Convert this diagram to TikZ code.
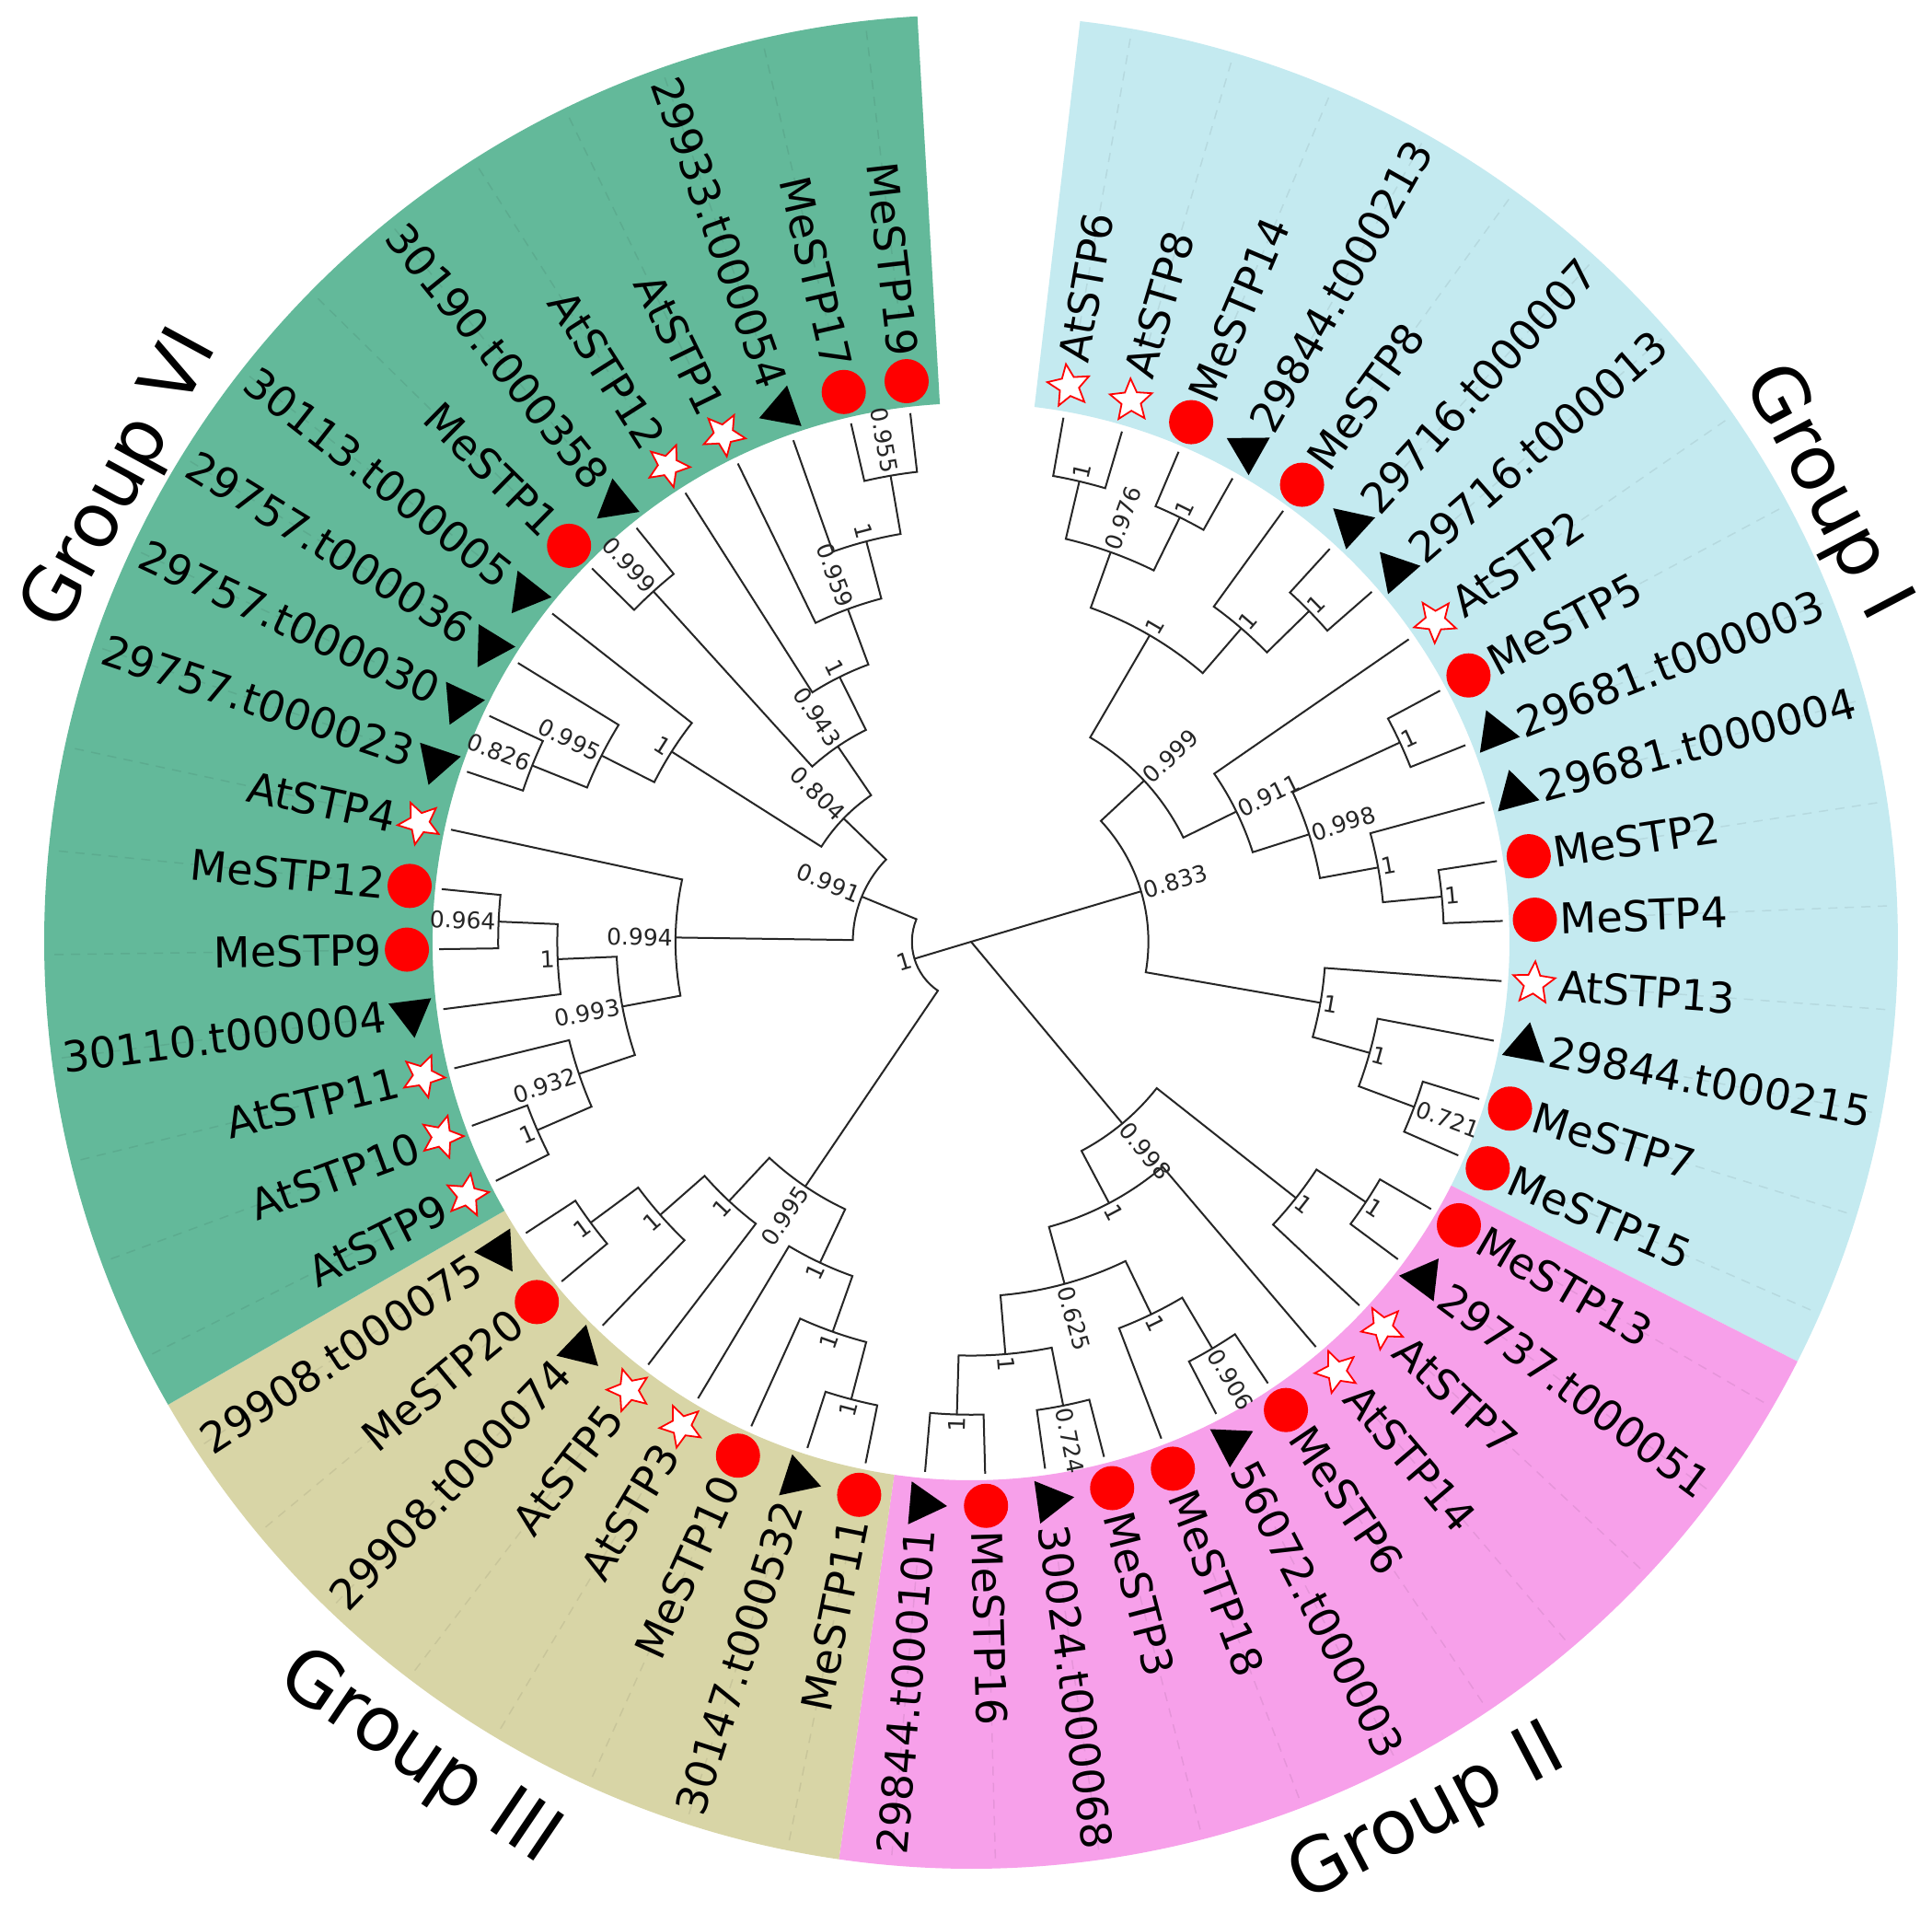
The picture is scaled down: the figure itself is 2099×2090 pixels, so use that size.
\documentclass[tikz,border=0pt]{standalone}
\usepackage{fontspec}
\setmainfont{DejaVu Sans}
\usetikzlibrary{calc}
\definecolor{gI}{RGB}{196,234,240}
\definecolor{gII}{RGB}{247,160,234}
\definecolor{gIII}{RGB}{216,213,166}
\definecolor{gVI}{RGB}{99,185,154}
\definecolor{mkred}{RGB}{255,0,0}
\newlength\labw
% clade: #1 index, #2 depth, #3/#4 child1 index/depth, #5/#6 child2 index/depth, #7 support, #8 name
\newcommand\cladeN[8]{%
  \pgfmathsetmacro\qa{80-6.48*(#3)}%
  \pgfmathsetmacro\qb{80-6.48*(#5)}%
  \pgfmathsetmacro\qn{80-6.48*(#1)}%
  \pgfmathsetmacro\qrn{578-64.2222*(#2)}%
  \pgfmathsetmacro\qra{578-64.2222*(#4)}%
  \pgfmathsetmacro\qrb{578-64.2222*(#6)}%
  \coordinate (#8) at (\qn:\qrn);
  \draw[brl] (\qa:\qra) -- (\qa:\qrn) arc[start angle=\qa, end angle=\qb, radius=\qrn] -- (\qb:\qrb);
  \pgfmathtruncatemacro\qrs{cos(\qn)>0}%
  \ifnum\qrs=1
    \node[suplab, rotate=\qn, anchor=west] (#8-lab) at (#8) {#7};
  \else
    \node[suplab, rotate=\qn+180, anchor=east] (#8-lab) at (#8) {#7};
  \fi
}
\newcommand\bandsec[3]{%
  \pgfmathsetmacro\bsa{80-6.48*(#1)}%
  \pgfmathsetmacro\bsb{80-6.48*(#2)}%
  \fill[#3] (\bsa:585) arc[start angle=\bsa, end angle=\bsb, radius=585] -- (\bsb:1007) arc[start angle=\bsb, end angle=\bsa, radius=1007] -- cycle;
}
\begin{document}
\begin{tikzpicture}[x=1pt,y=1pt,
  brl/.style={line width=2pt, draw=black!85},
  suplab/.style={font=\fontsize{25}{27}\selectfont, inner sep=3pt, text=black!85},
  leaflab/.style={font=\fontsize{46}{50}\selectfont, inner sep=0pt},
  grplab/.style={font=\fontsize{82}{90}\selectfont, inner sep=0pt},
  dashl/.style={line width=1.5pt, draw=black, opacity=0.07, dash pattern=on 10pt off 8pt}]
\useasboundingbox (-1055,-1067) rectangle (1044,1023);
\fill[white] (-1055,-1067) rectangle (1044,1023);
% coloured group sectors
\bandsec{-0.5}{16.5}{gI}
\bandsec{16.5}{27.5}{gII}
\bandsec{27.5}{35.5}{gIII}
\bandsec{35.5}{53.5}{gVI}
% leaves: markers, labels, dashed guides
\foreach \i/\mk/\lab in {0/s/AtSTP6,1/s/AtSTP8,2/c/MeSTP14,3/t/29844.t000213,4/c/MeSTP8,5/t/29716.t000007,6/t/29716.t000013,7/s/AtSTP2,8/c/MeSTP5,9/t/29681.t000003,10/t/29681.t000004,11/c/MeSTP2,12/c/MeSTP4,13/s/AtSTP13,14/t/29844.t000215,15/c/MeSTP7,16/c/MeSTP15,17/c/MeSTP13,18/t/29737.t000051,19/s/AtSTP7,20/s/AtSTP14,21/c/MeSTP6,22/t/56072.t000003,23/c/MeSTP18,24/c/MeSTP3,25/t/30024.t000068,26/c/MeSTP16,27/t/29844.t000101,28/c/MeSTP11,29/t/30147.t000532,30/c/MeSTP10,31/s/AtSTP3,32/s/AtSTP5,33/t/29908.t000074,34/c/MeSTP20,35/t/29908.t000075,36/s/AtSTP9,37/s/AtSTP10,38/s/AtSTP11,39/t/30110.t000004,40/c/MeSTP9,41/c/MeSTP12,42/s/AtSTP4,43/t/29757.t000023,44/t/29757.t000030,45/t/29757.t000036,46/t/30113.t000005,47/c/MeSTP1,48/t/30190.t000358,49/s/AtSTP12,50/s/AtSTP1,51/t/29933.t000054,52/c/MeSTP17,53/c/MeSTP19}{
  \pgfmathsetmacro\lth{80-6.48*\i}
  \coordinate (leaf\i) at (\lth:613);
  \if\mk c \fill[mkred] (leaf\i) circle[radius=24];\fi
  \if\mk t \fill[black, shift={(leaf\i)}, rotate=\lth] (90:27) -- (210:27) -- (330:27) -- cycle;\fi
  \if\mk s \filldraw[fill=white, draw=mkred, line width=1.8pt, line join=miter, shift={(leaf\i)}, rotate=\lth] (90:24) -- (126:11) -- (162:24) -- (198:11) -- (234:24) -- (270:11) -- (306:24) -- (342:11) -- (18:24) -- (54:11) -- cycle;\fi
  \pgfmathtruncatemacro\lrs{cos(\lth)>0}
  \ifnum\lrs=1
    \node[leaflab, rotate=\lth, anchor=west] (lab\i) at (\lth:640) {\lab};
  \else
    \node[leaflab, rotate=\lth+180, anchor=east] (lab\i) at (\lth:640) {\lab};
  \fi
  \settowidth{\labw}{\fontsize{46}{50}\selectfont\lab}
  \pgfmathsetmacro\lre{640+\labw+40}
  \pgfmathtruncatemacro\lok{\lre<985}
  \ifnum\lok=1 \draw[dashl] (\lth:\lre) -- (\lth:1004);\fi
}
% Group I
\cladeN{0.5}{1}{0}{0}{1}{0}{1}{nA}
\cladeN{2.5}{1}{2}{0}{3}{0}{1}{nB}
\cladeN{1.5}{2}{0.5}{1}{2.5}{1}{0.976}{nC}
\cladeN{5.5}{1}{5}{0}{6}{0}{1}{nF}
\cladeN{4.75}{2}{4}{0}{5.5}{1}{1}{nE}
\cladeN{3.125}{3}{1.5}{2}{4.75}{2}{1}{nD}
\cladeN{8.5}{1}{8}{0}{9}{0}{1}{nJ}
\cladeN{11.5}{1}{11}{0}{12}{0}{1}{nL}
\cladeN{10.75}{2}{10}{0}{11.5}{1}{1}{nK}
\cladeN{9.625}{3}{8.5}{1}{10.75}{2}{0.998}{nI}
\cladeN{8.3125}{4}{7}{0}{9.625}{3}{0.911}{nH}
\cladeN{5.71875}{5}{3.125}{3}{8.3125}{4}{0.999}{nG}
\cladeN{15.5}{1}{15}{0}{16}{0}{0.721}{nP}
\cladeN{14.75}{2}{14}{0}{15.5}{1}{1}{nO}
\cladeN{13.875}{3}{13}{0}{14.75}{2}{1}{nN}
\cladeN{9.796875}{6}{5.71875}{5}{13.875}{3}{0.833}{nM}
% Group II
\cladeN{17.5}{1}{17}{0}{18}{0}{1}{nQc}
\cladeN{18.25}{2}{17.5}{1}{19}{0}{1}{nQb}
\cladeN{21.5}{1}{21}{0}{22}{0}{0.906}{nQg}
\cladeN{22.25}{2}{21.5}{1}{23}{0}{1}{nQf}
\cladeN{24.5}{1}{24}{0}{25}{0}{0.724}{nQi}
\cladeN{26.5}{1}{26}{0}{27}{0}{1}{nQj}
\cladeN{25.5}{2}{24.5}{1}{26.5}{1}{1}{nQh}
\cladeN{23.875}{3}{22.25}{2}{25.5}{2}{0.625}{nQe}
\cladeN{21.9375}{4}{20}{0}{23.875}{3}{1}{nQd}
\cladeN{20.09375}{5}{18.25}{2}{21.9375}{4}{0.998}{nQ}
% Group III
\cladeN{34.5}{1}{34}{0}{35}{0}{1}{nYe}
\cladeN{33.75}{2}{33}{0}{34.5}{1}{1}{nYd}
\cladeN{32.875}{3}{32}{0}{33.75}{2}{1}{nYc}
\cladeN{28.5}{1}{28}{0}{29}{0}{1}{nYh}
\cladeN{29.25}{2}{28.5}{1}{30}{0}{1}{nYg}
\cladeN{30.125}{3}{29.25}{2}{31}{0}{1}{nYf}
\cladeN{31.5}{4}{30.125}{3}{32.875}{3}{0.995}{nYb}
% Group VI
\cladeN{36.5}{1}{36}{0}{37}{0}{1}{nZf}
\cladeN{37.25}{2}{36.5}{1}{38}{0}{0.932}{nZe}
\cladeN{40.5}{1}{40}{0}{41}{0}{0.964}{nZd}
\cladeN{39.75}{2}{39}{0}{40.5}{1}{1}{nZc}
\cladeN{38.5}{3}{37.25}{2}{39.75}{2}{0.993}{nZb}
\cladeN{40.25}{4}{38.5}{3}{42}{0}{0.994}{nZ}
\cladeN{43.5}{1}{43}{0}{44}{0}{0.826}{nVc}
\cladeN{44.25}{2}{43.5}{1}{45}{0}{0.995}{nVb}
\cladeN{45.125}{3}{44.25}{2}{46}{0}{1}{nVa}
\cladeN{47.5}{1}{47}{0}{48}{0}{0.999}{nT}
\cladeN{52.5}{1}{52}{0}{53}{0}{0.955}{nUe}
\cladeN{51.75}{2}{51}{0}{52.5}{1}{1}{nUd}
\cladeN{50.875}{3}{50}{0}{51.75}{2}{0.959}{nUc}
\cladeN{49.9375}{4}{49}{0}{50.875}{3}{1}{nUb}
\cladeN{48.71875}{5}{47.5}{1}{49.9375}{4}{0.943}{nUa}
\cladeN{46.921875}{6}{45.125}{3}{48.71875}{5}{0.804}{nW}
\cladeN{43.5859375}{7}{40.25}{4}{46.921875}{6}{0.991}{nYa}
\cladeN{37.54296875}{8}{31.5}{4}{43.5859375}{7}{1}{nX}
% root
\coordinate (root) at (0,0);
\draw[brl] (root) -- (nX);
\draw[brl] (root) -- (nM);
\draw[brl] (root) -- (nQ);
% group labels
\node[grplab, rotate=-62.3] (gl1) at (27.7:1048) {Group I};
\node[grplab, rotate=61.5] (gl6) at (151.5:1050) {Group VI};
\node[grplab, rotate=-34.1] (gl3) at (235.9:1071) {Group III};
\node[grplab, rotate=27.6] (gl2) at (297.6:1071) {Group II};
\end{tikzpicture}
\end{document}
